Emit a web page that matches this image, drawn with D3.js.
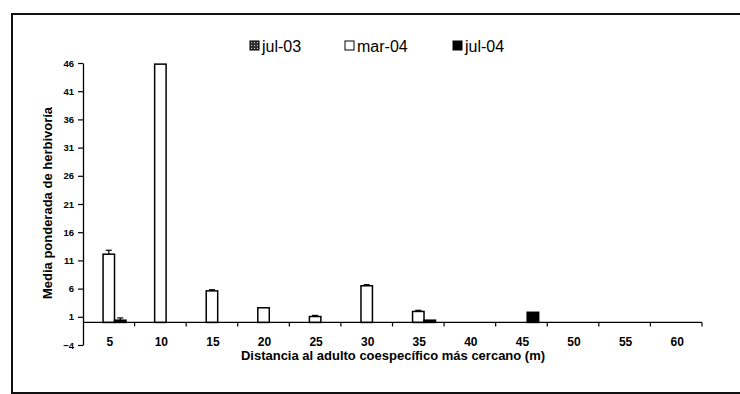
<!DOCTYPE html>
<html>
<head>
<meta charset="utf-8">
<script src="https://cdn.jsdelivr.net/npm/d3@7"></script>
<style>
  body { margin: 0; background: #fff; }
  svg { display: block; font-family: Arial, "Liberation Sans", sans-serif; }
</style>
</head>
<body>
<svg width="740" height="394"></svg>
<script>
// chart data
const categories = ["5", "10", "15", "20", "25", "30", "35", "40", "45", "50", "55", "60"];
const seriesNames = ["jul-03", "mar-04", "jul-04"];
const jul03 = [0, 0, 0, 0, 0, 0, 0, 0, 0, 0, 0, 0];
const mar04 = [12.1, 45.8, 5.6, 2.6, 1.05, 6.5, 1.95, 0, 0, 0, 0, 0];
const jul04 = [0.4, 0, 0, 0, 0, 0, 0.4, 0, 1.8, 0, 0, 0];
const mar04Err = [0.7, 0, 0.2, 0, 0.2, 0.2, 0.2, 0, 0, 0, 0, 0];
const jul04Err = [0.4, 0, 0, 0, 0, 0, 0, 0, 0, 0, 0, 0];
const yTicks = [-4, 1, 6, 11, 16, 21, 26, 31, 36, 41, 46];

const svg = d3.select("svg");

// pattern for jul-03
const defs = svg.append("defs");
const pat = defs.append("pattern")
  .attr("id", "dots")
  .attr("width", 3).attr("height", 3)
  .attr("patternUnits", "userSpaceOnUse");
pat.append("rect").attr("width", 3).attr("height", 3).attr("fill", "#333");
pat.append("rect").attr("x", 1).attr("y", 1).attr("width", 1).attr("height", 1).attr("fill", "#ccc");

const fills = { "jul-03": "url(#dots)", "mar-04": "#fff", "jul-04": "#000" };

// outer frame
svg.append("rect")
  .attr("x", 12).attr("y", 14)
  .attr("width", 740).attr("height", 379)
  .attr("fill", "none")
  .attr("stroke", "#111")
  .attr("stroke-width", 2);

const x = d3.scaleBand().domain(categories).range([83, 702]).padding(0);
const xs = d3.scaleBand().domain(seriesNames).range([0, x.bandwidth()]).paddingOuter(0.75);
const y = d3.scaleLinear().domain([-4, 46]).range([345, 63]);

const rows = categories.map((c, i) => ({
  cat: c,
  vals: [
    { s: "jul-03", v: jul03[i], e: 0 },
    { s: "mar-04", v: mar04[i], e: mar04Err[i] },
    { s: "jul-04", v: jul04[i], e: jul04Err[i] }
  ]
}));

const groups = svg.append("g").selectAll("g")
  .data(rows)
  .join("g")
  .attr("transform", d => `translate(${x(d.cat)},0)`);

groups.selectAll("rect")
  .data(d => d.vals.filter(v => v.v > 0))
  .join("rect")
  .attr("x", d => xs(d.s))
  .attr("width", xs.bandwidth())
  .attr("y", d => y(d.v))
  .attr("height", d => y(0) - y(d.v))
  .attr("fill", d => fills[d.s])
  .attr("stroke", "#000")
  .attr("stroke-width", 1.5);

// error bars
const err = groups.selectAll("g.err")
  .data(d => d.vals.filter(v => v.e > 0))
  .join("g")
  .attr("class", "err");
err.append("line")
  .attr("x1", d => xs(d.s) + xs.bandwidth() / 2)
  .attr("x2", d => xs(d.s) + xs.bandwidth() / 2)
  .attr("y1", d => y(d.v))
  .attr("y2", d => y(d.v + d.e))
  .attr("stroke", "#000").attr("stroke-width", 1.2);
err.append("line")
  .attr("x1", d => xs(d.s) + xs.bandwidth() / 2 - 3)
  .attr("x2", d => xs(d.s) + xs.bandwidth() / 2 + 3)
  .attr("y1", d => y(d.v + d.e))
  .attr("y2", d => y(d.v + d.e))
  .attr("stroke", "#000").attr("stroke-width", 1.2);

// y axis
const yAxis = svg.append("g")
  .attr("transform", "translate(83,0)")
  .call(d3.axisLeft(y).tickValues(yTicks).tickSize(5).tickPadding(4).tickSizeOuter(0));
yAxis.select(".domain").attr("stroke", "#000").attr("stroke-width", 1.3);
yAxis.selectAll(".tick line").attr("stroke", "#000").attr("stroke-width", 1.2);
yAxis.selectAll("text")
  .attr("font-size", 9.5)
  .attr("font-weight", "bold")
  .attr("font-family", "Arial, 'Liberation Sans', sans-serif")
  .attr("fill", "#000");

// x axis at zero
svg.append("line")
  .attr("x1", 83).attr("x2", 702)
  .attr("y1", y(0)).attr("y2", y(0))
  .attr("stroke", "#000").attr("stroke-width", 1.3);
svg.append("g").selectAll("line")
  .data(categories)
  .join("line")
  .attr("x1", d => x(d) + x.bandwidth())
  .attr("x2", d => x(d) + x.bandwidth())
  .attr("y1", y(0)).attr("y2", y(0) + 4)
  .attr("stroke", "#000").attr("stroke-width", 1.2);

// category labels sit low, near the bottom of the value range
svg.append("g").selectAll("text")
  .data(categories)
  .join("text")
  .attr("x", d => x(d) + x.bandwidth() / 2 + 1)
  .attr("y", 346)
  .attr("text-anchor", "middle")
  .attr("font-size", 12)
  .attr("font-weight", "bold")
  .text(d => d);

// axis titles
svg.append("text")
  .attr("x", 393).attr("y", 360)
  .attr("text-anchor", "middle")
  .attr("font-size", 13)
  .attr("font-weight", "bold")
  .text("Distancia al adulto coespecífico más cercano (m)");

svg.append("text")
  .attr("transform", "translate(52,203) rotate(-90)")
  .attr("text-anchor", "middle")
  .attr("font-size", 13)
  .attr("font-weight", "bold")
  .text("Media ponderada de herbivoría");

// legend
const legendX = [250, 345, 453];
const legend = svg.append("g").selectAll("g")
  .data(seriesNames)
  .join("g")
  .attr("transform", (d, i) => `translate(${legendX[i]},41)`);
legend.append("rect")
  .attr("width", 9).attr("height", 9)
  .attr("fill", d => fills[d])
  .attr("stroke", "#000").attr("stroke-width", 1);
legend.append("text")
  .attr("x", 12).attr("y", 11)
  .attr("font-size", 16)
  .text(d => d);
</script>
</body>
</html>
